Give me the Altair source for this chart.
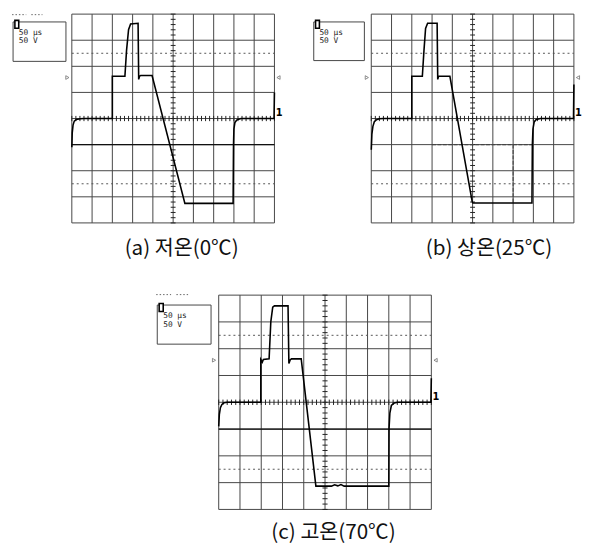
import altair as alt
import pandas as pd

# ---------------- data (oscilloscope divisions: x 0..10, y -4..4) ----------------
captions = ["(a) 저온(0℃)", "(b) 상온(25℃)", "(c) 고온(70℃)"]
scale_labels = ["50 µs", "50 V"]

a_x = [0.0, 0.02, 0.06, 0.12, 0.22, 0.42, 0.6, 2.0, 2.0, 2.62, 2.7, 2.8, 2.9, 3.27, 3.3, 3.34, 3.4,
       3.96, 5.58, 7.96, 7.98, 8.0, 8.05, 8.15, 8.35, 9.98, 10.0]
a_y = [-1.1, -0.55, -0.25, -0.1, -0.04, -0.01, 0.0, 0.0, 1.62, 1.62, 2.6, 3.4, 3.62, 3.65, 1.5, 1.62, 1.65,
       1.65, -3.25, -3.25, -1.0, -0.4, -0.15, -0.05, 0.0, 0.0, 1.0]

b_x = [0.0, 0.03, 0.08, 0.15, 0.25, 0.4, 0.6, 2.0, 2.0, 2.52, 2.6, 2.68, 2.78, 3.25, 3.28, 3.32, 3.38,
       3.88, 4.98, 5.02, 7.93, 7.95, 7.98, 8.04, 8.14, 8.35, 9.98, 10.0]
b_y = [-1.2, -0.6, -0.3, -0.12, -0.05, -0.01, 0.0, 0.0, 1.62, 1.62, 2.6, 3.45, 3.65, 3.65, 1.5, 1.62, 1.62,
       1.62, -3.18, -3.24, -3.24, -1.0, -0.4, -0.13, -0.04, 0.0, 0.0, 1.3]

c_x = [0.0, 0.03, 0.08, 0.15, 0.25, 0.4, 1.98, 1.98, 2.05, 2.1, 2.37, 2.45, 2.54, 2.62, 3.26, 3.3, 3.36,
       3.42, 3.88, 4.57, 5.3, 5.45, 5.6, 5.75, 5.9, 8.0, 8.01, 8.05, 8.12, 8.25, 8.42, 9.98, 10.0]
c_y = [-0.9, -0.45, -0.2, -0.08, -0.02, 0.0, 0.0, 1.6, 1.5, 1.6, 1.62, 3.0, 3.55, 3.6, 3.6, 1.45, 1.58,
       1.62, 1.62, -3.13, -3.13, -3.08, -3.12, -3.07, -3.13, -3.13, -1.0, -0.4, -0.12, -0.03, 0.0, 0.0, 0.9]

# second-trace segments (x, y, x2, y2, faint)
a_t2 = [(0.0, -1.0, 10.0, -1.0, 0)]
b_t2 = [(3.0, -1.0, 8.0, -1.0, 1), (7.0, -1.0, 7.0, -3.24, 1)]
c_t2 = [(0.0, -1.0, 10.0, -1.0, 0)]

# settings box (x, x2, y, y2) in divisions
a_box = (-2.9, -0.29, 2.19, 3.7)
b_box = (-2.84, -0.34, 2.22, 3.7)
c_box = (-2.89, -0.36, 2.17, 3.63)


def panel(tx, ty, t2, box, caption, cap_x, cap_y, xdom, ydom, dx, dy, dots_y=None):
    xs = alt.Scale(domain=list(xdom), nice=False, zero=False)
    ys = alt.Scale(domain=list(ydom), nice=False, zero=False)
    X = lambda f: alt.X(f, type="quantitative", scale=xs, axis=None)
    Y = lambda f: alt.Y(f, type="quantitative", scale=ys, axis=None)

    vgrid = pd.DataFrame({"x": list(range(0, 11)), "y": -4, "y2": 4})
    hgrid = pd.DataFrame({"y": list(range(-4, 5)), "x": 0, "x2": 10})
    cur = pd.DataFrame({"y": [2.5, -2.5], "x": 0, "x2": 10})
    vt = pd.DataFrame({"y": [-4 + 0.2 * k for k in range(41)], "x": 4.88, "x2": 5.12})
    ht = pd.DataFrame({"x": [0.2 * k for k in range(51)], "y": -0.1, "y2": 0.1})
    tr = pd.DataFrame({"x": tx, "y": ty, "i": list(range(len(tx)))})
    seg = pd.DataFrame(t2, columns=["x", "y", "x2", "y2", "faint"])
    seg_strong = seg[seg["faint"] == 0]
    seg_faint = seg[seg["faint"] == 1]

    bx = pd.DataFrame([{"x": box[0], "x2": box[1], "y": box[2], "y2": box[3]}])
    icon = pd.DataFrame([{"x": box[0] + 0.09, "x2": box[0] + 0.28, "y": box[3] - 0.24, "y2": box[3] + 0.06}])
    txt = pd.DataFrame({"x": [box[0] + 0.28] * 2, "y": [box[3] - 0.42, box[3] - 0.75], "t": scale_labels})
    cap = pd.DataFrame({"x": [cap_x], "y": [cap_y], "t": [caption]})
    one = pd.DataFrame({"x": [10.06], "y": [0.02], "t": ["1"]})
    trl = pd.DataFrame({"x": [-0.22], "y": [1.57]})
    trr = pd.DataFrame({"x": [10.2], "y": [1.57]})

    layers = [
        alt.Chart(vgrid).mark_rule(color="#444", strokeWidth=1).encode(x=X("x"), y=Y("y"), y2="y2"),
        alt.Chart(hgrid).mark_rule(color="#444", strokeWidth=1).encode(y=Y("y"), x=X("x"), x2="x2"),
        alt.Chart(cur).mark_rule(color="#555", strokeWidth=1, strokeDash=[2, 3]).encode(y=Y("y"), x=X("x"), x2="x2"),
        alt.Chart(vt).mark_rule(color="#222", strokeWidth=1).encode(y=Y("y"), x=X("x"), x2="x2"),
        alt.Chart(ht).mark_rule(color="#222", strokeWidth=1).encode(x=X("x"), y=Y("y"), y2="y2"),
    ]
    if len(seg_strong):
        layers.append(alt.Chart(seg_strong).mark_rule(color="#111", strokeWidth=1.4).encode(
            x=X("x"), y=Y("y"), x2="x2", y2="y2"))
    if len(seg_faint):
        layers.append(alt.Chart(seg_faint).mark_rule(color="#444", strokeWidth=1.1, strokeDash=[4, 1.5]).encode(
            x=X("x"), y=Y("y"), x2="x2", y2="y2"))
    layers += [
        alt.Chart(tr).mark_line(color="#000", strokeWidth=1.6, interpolate="linear").encode(
            x=X("x"), y=Y("y"), order=alt.Order("i:Q")),
        alt.Chart(bx).mark_rect(fill="white", stroke="#444", strokeWidth=1).encode(
            x=X("x"), x2="x2", y=Y("y"), y2="y2"),
        alt.Chart(icon).mark_rect(fill="white", stroke="#000", strokeWidth=1.6).encode(
            x=X("x"), x2="x2", y=Y("y"), y2="y2"),
        alt.Chart(txt).mark_text(align="left", baseline="middle", font="DejaVu Sans Mono", fontSize=8,
                                 color="#222").encode(x=X("x"), y=Y("y"), text="t:N"),
        alt.Chart(one).mark_text(align="left", baseline="bottom", font="DejaVu Sans", fontSize=10,
                                 fontWeight="bold", color="#000").encode(x=X("x"), y=Y("y"), text="t:N"),
        alt.Chart(trl).mark_point(shape="triangle-right", size=14, filled=False, color="#333",
                                  strokeWidth=0.8).encode(x=X("x"), y=Y("y")),
        alt.Chart(trr).mark_point(shape="triangle-left", size=14, filled=False, color="#333",
                                  strokeWidth=0.8).encode(x=X("x"), y=Y("y")),
        alt.Chart(cap).mark_text(align="center", baseline="middle", font="Noto Sans CJK KR", fontSize=21,
                                 color="#111").encode(x=X("x"), y=Y("y"), text="t:N"),
    ]
    if dots_y is not None:
        dots = pd.DataFrame({"x": [box[0] - 0.05, box[0] + 0.9], "x2": [box[0] + 0.65, box[0] + 1.45],
                             "y": [dots_y, dots_y]})
        layers.append(alt.Chart(dots).mark_rule(color="#666", strokeWidth=1, strokeDash=[1.5, 2]).encode(
            x=X("x"), x2="x2", y=Y("y")))
    w = (xdom[1] - xdom[0]) * dx
    h = (ydom[1] - ydom[0]) * dy
    return alt.layer(*layers).properties(width=w, height=h)


DX, DY = 20.65, 26.6
pa = panel(a_x, a_y, a_t2, a_box, captions[0], 5.42, -5.0, (-3.15, 10.35), (-5.6, 4.04), DX, DY, dots_y=3.98)
pb = panel(b_x, b_y, b_t2, b_box, captions[1], 5.81, -5.0, (-4.37, 10.25), (-5.6, 4.04), DX, DY)
pc = panel(c_x, c_y, c_t2, c_box, captions[2], 5.4, -4.87, (-9.91, 10.4), (-5.15, 4.2), 21.67, 27.3, dots_y=4.02)

top = alt.hconcat(pa, pb, spacing=0).resolve_scale(x="independent", y="independent")
chart = alt.vconcat(top, pc, spacing=25).resolve_scale(x="independent", y="independent").properties(
    padding=0, background="white"
).configure_view(stroke=None)

chart.save("out.html", embed_options={"renderer": "svg", "actions": False})
